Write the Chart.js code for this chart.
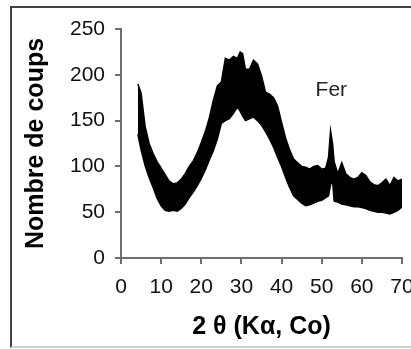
<!DOCTYPE html>
<html>
<head>
<meta charset="utf-8">
<script src="https://cdn.jsdelivr.net/npm/chart.js@4/dist/chart.umd.min.js"></script>
<style>
  body { margin: 0; background: #fff; }
  #wrap { position: relative; width: 411px; height: 349px; overflow: hidden; }
  #frame { position: absolute; left: 10px; top: 6px; width: 430px; height: 338px;
           border-left: 2px solid #444; border-top: 2px solid #444; border-bottom: 2px solid #d0d0d0; }
  canvas { position: absolute; left: 0; top: 0; }
</style>
</head>
<body>
<div id="wrap">
  <div id="frame"></div>
  <canvas id="xrd"></canvas>
</div>
<script>
// 2 theta positions where the envelope of the noisy band was read
const twoTheta = [4.2, 5, 6, 7, 8, 9, 10, 11, 12, 13, 14, 15, 16, 17, 18, 19, 20, 21, 22, 23, 24, 25,
  26, 27, 28, 29, 29.7, 30.3, 31, 32, 33, 34, 35, 36, 37, 38, 39, 40, 41, 42, 43, 44, 45, 46, 47, 48, 49, 50, 51,
  51.7, 52.2, 52.7, 53.1, 54, 55, 56, 57, 58, 59, 60, 61, 62, 63, 64, 65, 66, 67, 68, 69, 70];

// top of the band (counts)
const upperCounts = [190, 180, 144, 125, 114, 105, 98, 91, 84, 81, 82, 86, 92, 100, 106, 115, 126, 138, 153, 172, 188, 192,
  218, 216, 220, 218, 225, 223, 206, 206, 216, 212, 199, 181, 179, 175, 166, 148, 131, 118, 108, 104, 100, 99, 97, 100, 101, 97, 98,
  110, 139, 125, 105, 92, 104, 92, 88, 86, 88, 93, 90, 83, 80, 79, 82, 86, 79, 88, 84, 86];

// bottom of the band (counts)
const lowerCounts = [135, 118, 101, 88, 77, 65, 57, 52, 51, 52, 51, 54, 59, 66, 72, 79, 87, 96, 107, 117, 130, 147,
  150, 152, 158, 165, 160, 155, 150, 152, 154, 150, 145, 138, 130, 121, 110, 100, 88, 77, 68, 64, 60, 57, 58, 60, 62, 63, 66,
  68, 80, 84, 62, 61, 59, 58, 57, 56, 56, 55, 54, 52, 51, 50, 50, 49, 48, 50, 52, 56];

const xTicks = [0, 10, 20, 30, 40, 50, 60, 70];
const yTicks = [0, 50, 100, 150, 200, 250];

const peakLabel = { text: 'Fer', x: 52.4, y: 183 };

const toPoints = (ys) => twoTheta.map((x, i) => ({ x: x, y: ys[i] }));

const peakLabelPlugin = {
  id: 'peakLabel',
  afterDatasetsDraw(chart) {
    const ctx = chart.ctx;
    const px = chart.scales.x.getPixelForValue(peakLabel.x);
    const py = chart.scales.y.getPixelForValue(peakLabel.y);
    ctx.save();
    ctx.font = '21px "Liberation Sans", Arial, sans-serif';
    ctx.fillStyle = '#222';
    ctx.textAlign = 'center';
    ctx.textBaseline = 'middle';
    ctx.fillText(peakLabel.text, px, py);
    ctx.restore();
  }
};

const axisGray = '#6e6e6e';
const tickFont = { family: '"Liberation Sans", Arial, sans-serif', size: 21 };
const titleFont = { family: '"Liberation Sans", Arial, sans-serif', size: 25, weight: 'bold' };

new Chart(document.getElementById('xrd'), {
  type: 'line',
  data: {
    datasets: [
      {
        label: 'haut',
        data: toPoints(upperCounts),
        borderColor: '#000',
        borderWidth: 1.5,
        pointRadius: 0,
        tension: 0,
        fill: false
      },
      {
        label: 'bas',
        data: toPoints(lowerCounts),
        borderColor: '#000',
        borderWidth: 1.5,
        backgroundColor: '#000',
        pointRadius: 0,
        tension: 0,
        fill: '-1'
      }
    ]
  },
  options: {
    responsive: true,
    maintainAspectRatio: false,
    animation: false,
    layout: { padding: { top: 29, right: 9, left: 0, bottom: 0 } },
    plugins: {
      legend: { display: false },
      tooltip: { enabled: false }
    },
    scales: {
      x: {
        type: 'linear',
        min: 0,
        max: 70,
        afterBuildTicks: (scale) => { scale.ticks = xTicks.map(v => ({ value: v })); },
        afterFit: (scale) => { scale.height = 91; scale.paddingLeft = 0; scale.paddingRight = 0; },
        border: { color: axisGray, width: 2 },
        grid: { drawOnChartArea: false, drawTicks: true, tickLength: 6, color: axisGray, lineWidth: 2 },
        ticks: { color: '#111', font: tickFont, padding: 11, maxRotation: 0 },
        title: { display: true, text: '2 θ (Kα, Co)', color: '#000', font: titleFont, padding: { top: 0, bottom: 7 } }
      },
      y: {
        type: 'linear',
        min: 0,
        max: 250,
        afterBuildTicks: (scale) => { scale.ticks = yTicks.map(v => ({ value: v })); },
        afterFit: (scale) => { scale.width = 121; scale.paddingTop = 0; scale.paddingBottom = 0; },
        border: { color: axisGray, width: 2 },
        grid: { drawOnChartArea: false, drawTicks: true, tickLength: 6, color: axisGray, lineWidth: 2 },
        ticks: { color: '#111', font: tickFont, padding: 10 },
        title: { display: true, text: 'Nombre de coups', color: '#000', font: titleFont, padding: { top: 21, bottom: 0 } }
      }
    }
  },
  plugins: [peakLabelPlugin]
});
</script>
</body>
</html>
